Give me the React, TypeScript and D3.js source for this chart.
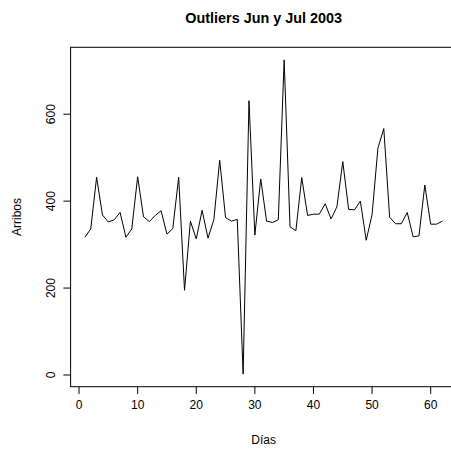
import React from "react";
import * as d3 from "d3";

const dias: number[] = Array.from({ length: 62 }, (_, i) => i + 1);
const arribos: number[] = [
  317, 336, 455, 368, 352, 357, 374, 317, 336, 456,
  364, 353, 367, 378, 324, 337, 455, 195, 354, 313,
  379, 315, 357, 494, 362, 354, 358, 2, 631, 322,
  451, 354, 351, 357, 725, 341, 332, 454, 367, 370,
  370, 394, 359, 387, 491, 381, 380, 400, 310, 369,
  522, 567, 363, 348, 348, 374, 318, 320, 437, 347,
  347, 354,
];
const xTicks: number[] = [0, 10, 20, 30, 40, 50, 60];
const yTicks: number[] = [0, 200, 400, 600];
const title = "Outliers Jun y Jul 2003";
const xLabel = "Días";
const yLabel = "Arribos";

export default function App() {
  const W = 451, H = 449;
  const left = 70.6, right = 456.7, top = 47.3, bottom = 386.7;
  const xe = d3.extent(dias) as [number, number];
  const ye = d3.extent(arribos) as [number, number];
  const xp = (xe[1] - xe[0]) * 0.04;
  const yp = (ye[1] - ye[0]) * 0.04;
  const x = d3.scaleLinear().domain([xe[0] - xp, xe[1] + xp]).range([left, right]);
  const y = d3.scaleLinear().domain([ye[0] - yp, ye[1] + yp]).range([bottom, top]);
  const line = d3.line<number>().x((_, i) => x(dias[i])).y((d) => y(d));
  const font = "'Liberation Sans', Arial, Helvetica, sans-serif";
  const cx = (left + right) / 2;
  const cy = (top + bottom) / 2;
  return (
    <svg width={W} height={H} style={{ position: "absolute", left: 0, top: 0, background: "#fff" }} fontFamily={font}>
      <rect x={0} y={0} width={W} height={H} fill="#fff" />
      <text x={cx} y={23} textAnchor="middle" fontWeight="bold" fontSize={14.4}>{title}</text>
      <rect x={left} y={top} width={right - left} height={bottom - top} fill="none" stroke="#000" strokeWidth={1} />
      <path d={line(arribos) || ""} fill="none" stroke="#000" strokeWidth={1} />
      {xTicks.map((t) => (
        <g key={"x" + t}>
          <line x1={x(t)} x2={x(t)} y1={bottom} y2={bottom + 7.2} stroke="#000" />
          <text x={x(t)} y={bottom + 22} textAnchor="middle" fontSize={12}>{t}</text>
        </g>
      ))}
      {yTicks.map((t) => (
        <g key={"y" + t}>
          <line x1={left} x2={left - 7.2} y1={y(t)} y2={y(t)} stroke="#000" />
          <text transform={`translate(${left - 16},${y(t)}) rotate(-90)`} textAnchor="middle" fontSize={12}>{t}</text>
        </g>
      ))}
      <text x={cx} y={444} textAnchor="middle" fontSize={12}>{xLabel}</text>
      <text transform={`translate(21,${cy}) rotate(-90)`} textAnchor="middle" fontSize={12}>{yLabel}</text>
    </svg>
  );
}
